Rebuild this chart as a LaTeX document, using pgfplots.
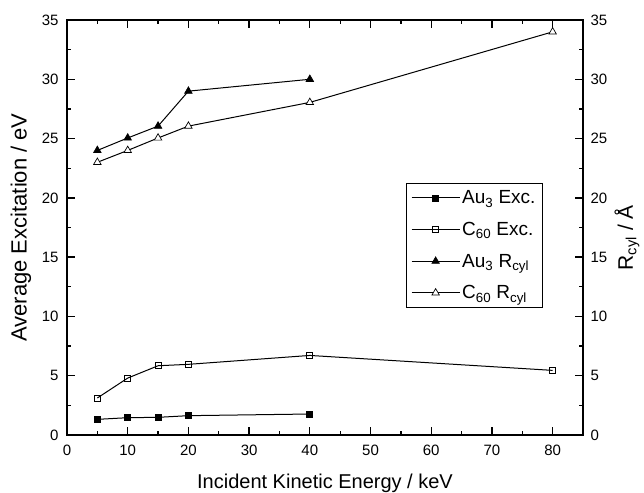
\documentclass[border=0pt]{standalone}
\usepackage{fontspec}
\setmainfont{Liberation Sans}
\usepackage{pgfplots}
\pgfplotsset{compat=1.18}
\begin{document}
\begin{tikzpicture}
\pgfplotsset{
  common/.style={
    scale only axis, width=516pt, height=415pt,
    xmin=0, xmax=85, ymin=0, ymax=35,
    xtick={0,10,...,80}, ytick={0,5,...,35},
    minor x tick num=1, minor y tick num=1,
    tick align=inside,
    major tick length=8pt, minor tick length=4.5pt,
    every tick/.style={line width=1.3pt, black},
    axis line style={line width=1.7pt},
    /pgf/number format/assume math mode=true,
    tick label style={font=\fontsize{15}{18}\selectfont},
  }
}
\begin{axis}[common,
  ytick pos=both, yticklabel pos=left, xtick pos=both, xticklabel pos=bottom,
  xlabel={Incident Kinetic Energy / keV},
  ylabel={Average Excitation / eV},
  every axis x label/.style={at={(axis description cs:0.5,-0.1157)}, anchor=center, font=\fontsize{20}{23}\selectfont},
  every axis y label/.style={at={(axis description cs:-0.0891,0.5)}, rotate=90, anchor=center, font=\fontsize{22}{25}\selectfont},
  xticklabel style={yshift=-6pt},
  yticklabel style={xshift=-5pt},
  legend style={at={(0.9225,0.607)}, anchor=north east, draw=black, line width=1pt,
    font=\fontsize{19}{22}\selectfont, row sep=13pt, inner xsep=5pt, inner ysep=5pt},
  legend cell align=left,
  legend image code/.code={
    \draw[mark repeat=2,mark phase=2] plot coordinates {(0pt,0pt) (24pt,0pt) (48pt,0pt)};
  },
]
\addplot[black, line width=1pt, mark=square*, mark size=3pt, mark options={solid, line width=0.7pt}] coordinates {
(5,1.32) (10,1.46) (15,1.49) (20,1.63) (40,1.77)};
\addlegendentry{Au\textsubscript{3} Exc.}
\addplot[black, line width=1pt, mark=square, mark size=3pt, mark options={solid, fill=white, line width=0.7pt}] coordinates {
(5,3.12) (10,4.8) (15,5.84) (20,5.96) (40,6.71) (80,5.45)};
\addlegendentry{C\textsubscript{60} Exc.}
\addplot[black, line width=1pt, mark=triangle*, mark size=4.3pt, mark options={solid, line width=0.7pt}] coordinates {
(5,24.0) (10,25.05) (15,26.05) (20,29.0) (40,30.0)};
\addlegendentry{Au\textsubscript{3} R\textsubscript{cyl}}
\addplot[black, line width=1pt, mark=triangle*, mark size=4.3pt, mark options={solid, fill=white, line width=0.7pt}] coordinates {
(5,23.0) (10,24.0) (15,25.05) (20,26.05) (40,28.05) (80,34.0)};
\addlegendentry{C\textsubscript{60} R\textsubscript{cyl}}
\coordinate (SW) at (rel axis cs:0,0);
\coordinate (NE) at (rel axis cs:1,1);
\end{axis}
\begin{axis}[common,
  hide x axis, axis line style={draw=none},
  ytick pos=right, yticklabel pos=right,
  yticklabel style={xshift=4pt},
  ylabel={R\textsubscript{cyl} / Å},
  every axis y label/.style={at={(axis description cs:1.085,0.475)}, rotate=90, anchor=center, font=\fontsize{21}{24}\selectfont},
]
\addplot[draw=none] coordinates {(0,0)};
\end{axis}
\pgfresetboundingbox
\path ([shift={(-67pt,-57pt)}]SW) rectangle ([shift={(61pt,20pt)}]NE);
\end{tikzpicture}
\end{document}
